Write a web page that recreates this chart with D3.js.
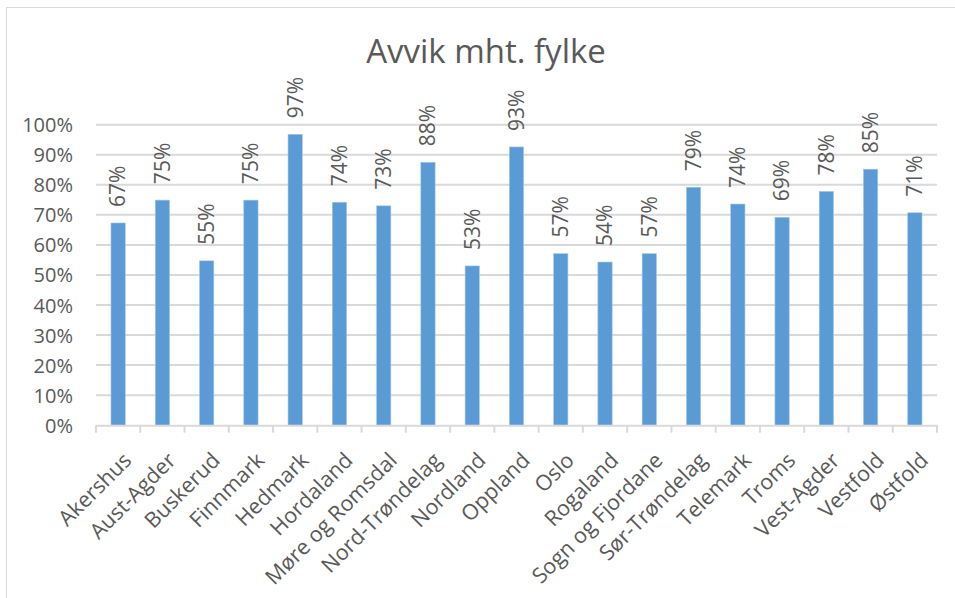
<!DOCTYPE html>
<html>
<head>
<meta charset="utf-8">
<script src="https://cdn.jsdelivr.net/npm/d3@7"></script>
<style>
html,body{margin:0;padding:0;background:#fff;}
svg{display:block;font-family:"Open Sans",sans-serif;}
</style>
</head>
<body>
<svg id="chart" width="955" height="598"></svg>
<script>
const categories = ["Akershus","Aust-Agder","Buskerud","Finnmark","Hedmark","Hordaland","Møre og Romsdal","Nord-Trøndelag","Nordland","Oppland","Oslo","Rogaland","Sogn og Fjordane","Sør-Trøndelag","Telemark","Troms","Vest-Agder","Vestfold","Østfold"];
const values = [0.673,0.749,0.547,0.749,0.968,0.742,0.730,0.875,0.530,0.926,0.571,0.543,0.571,0.792,0.736,0.692,0.778,0.852,0.707];
const yTicks = [0,0.1,0.2,0.3,0.4,0.5,0.6,0.7,0.8,0.9,1.0];
const title = "Avvik mht. fylke";

(function(){
const svg = d3.select("#chart");
const pL = 96, pR = 937, pT = 124.7, pB = 425.2;
const textColor = "#595959", gridColor = "#d9d9d9", barColor = "#5b9bd5";

// chart border
svg.append("rect").attr("x",6.5).attr("y",7.5).attr("width",970).attr("height",620)
  .attr("fill","none").attr("stroke",gridColor).attr("stroke-width",1);

const x = d3.scaleBand().domain(categories).range([pL,pR]).paddingInner(0).paddingOuter(0);
const y = d3.scaleLinear().domain([0,1]).range([pB,pT]);

// title
svg.append("text").attr("x",486).attr("y",63).attr("text-anchor","middle")
  .attr("font-size",33).attr("fill",textColor).text(title);

// gridlines
svg.append("g").selectAll("line").data(yTicks.filter(d=>d>0)).join("line")
  .attr("x1",pL).attr("x2",pR)
  .attr("y1",d=>y(d)).attr("y2",d=>y(d))
  .attr("stroke",gridColor).attr("stroke-width",2);

// y axis labels
const yAxis = d3.axisLeft(y).tickValues(yTicks).tickFormat(d3.format(".0%")).tickSize(0).tickPadding(0);
const gy = svg.append("g").attr("transform",`translate(73,0)`).call(yAxis);
gy.select(".domain").remove();
gy.selectAll("text").attr("font-size",20).attr("fill",textColor).attr("font-family","Open Sans").attr("dy","0.35em");

// bars
const bw = 14.3;
svg.append("g").selectAll("rect").data(values).join("rect")
  .attr("x",(d,i)=>x(categories[i])+x.bandwidth()/2-bw/2)
  .attr("width",bw)
  .attr("y",d=>y(d))
  .attr("height",d=>pB-y(d))
  .attr("fill",barColor)
  .attr("stroke","#a9c8e8").attr("stroke-width",0.6);

// x axis line and ticks
const gx = svg.append("g").attr("transform",`translate(0,${pB})`);
gx.append("line").attr("x1",pL).attr("x2",pR).attr("y1",0.5).attr("y2",0.5)
  .attr("stroke",gridColor).attr("stroke-width",2);
const tickPos = categories.map(c=>x(c)).concat([pR]);
gx.selectAll("line.tk").data(tickPos).join("line").attr("class","tk")
  .attr("x1",d=>d).attr("x2",d=>d).attr("y1",0).attr("y2",7.5)
  .attr("stroke",gridColor).attr("stroke-width",2);

// category labels
svg.append("g").selectAll("text").data(categories).join("text")
  .attr("transform",d=>`translate(${x(d)+x.bandwidth()/2+9.4},456.4) rotate(-45)`)
  .attr("text-anchor","end").attr("dy","0.35em")
  .attr("font-size",21.5).attr("fill",textColor).text(d=>d);

// data labels
const fmt = d3.format(".0%");
svg.append("g").selectAll("text").data(values).join("text")
  .attr("transform",(d,i)=>`translate(${x(categories[i])+x.bandwidth()/2},${y(d)-16}) rotate(-90)`)
  .attr("text-anchor","start").attr("dy","0.35em")
  .attr("font-size",21).attr("fill",textColor).text(d=>fmt(d));
})();
</script>
</body>
</html>
